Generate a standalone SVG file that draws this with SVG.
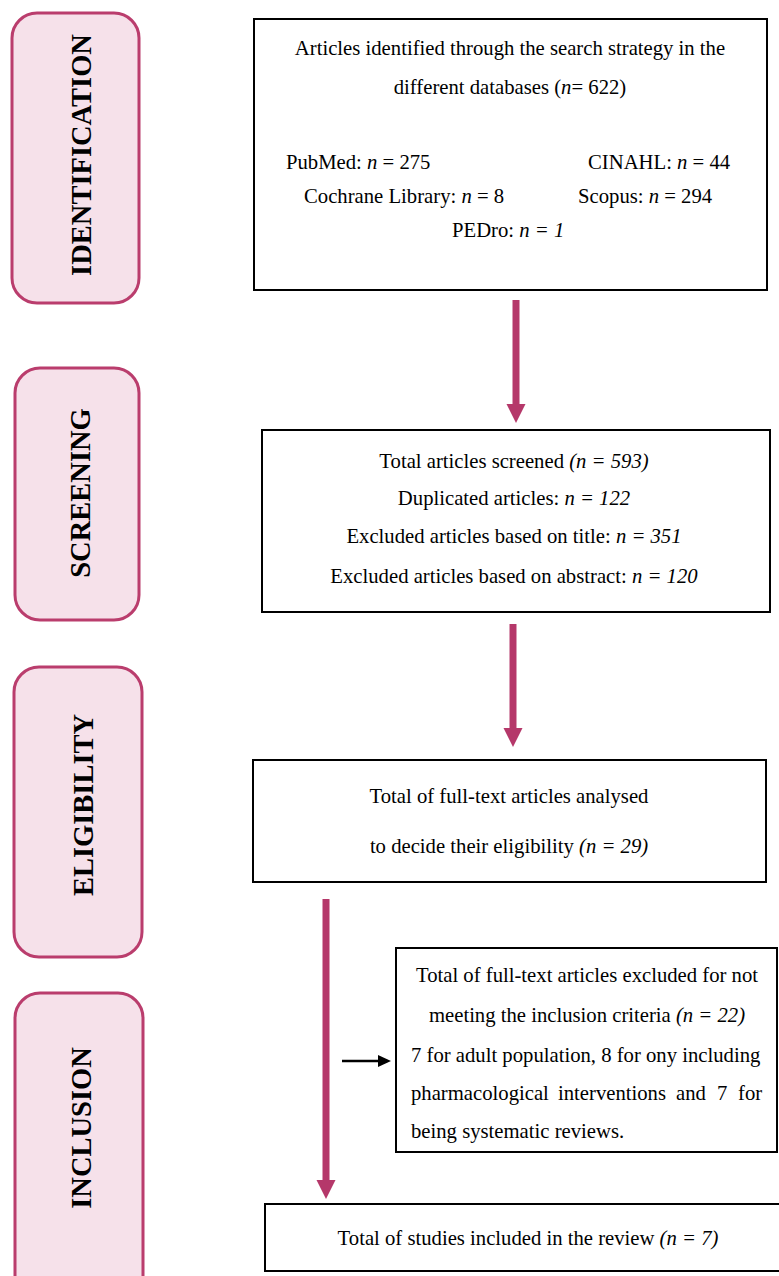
<svg xmlns="http://www.w3.org/2000/svg" width="779" height="1276" viewBox="0 0 779 1276">
<defs>
<style>
.stage{fill:#F6E1EA;stroke:#BA3D6D;stroke-width:3}
.stlabel{font-family:"Liberation Serif","Times New Roman",serif;font-weight:bold;font-size:28.5px;fill:#000;text-anchor:middle}
.box{fill:#fff;stroke:#000;stroke-width:2}
.t{font-family:"Liberation Serif","Times New Roman",serif;font-size:20.7px;fill:#000}
.c{text-anchor:middle}
.i{font-style:italic}
.flow{stroke:#B5386A;stroke-width:7;fill:none}
.side{stroke:#000;stroke-width:2.5;fill:none}
</style>
<marker id="mh" markerUnits="userSpaceOnUse" markerWidth="20" markerHeight="20" refX="0" refY="9.5" orient="auto" viewBox="0 0 20 19">
<path d="M0,0 L19,9.5 L0,19 z" fill="#B5386A"/>
</marker>
<marker id="bh" markerUnits="userSpaceOnUse" markerWidth="13" markerHeight="12" refX="0" refY="6" orient="auto" viewBox="0 0 13 12">
<path d="M0,0 L13,6 L0,12 z" fill="#000"/>
</marker>
</defs>
<rect width="779" height="1276" fill="#fff"/>

<g id="stage-identification">
<rect class="stage" x="12" y="13" width="127" height="290" rx="25"/>
<text class="stlabel" transform="translate(91,155) rotate(-90)">IDENTIFICATION</text>
</g>
<g id="stage-screening">
<rect class="stage" x="15" y="368" width="124" height="252" rx="25"/>
<text class="stlabel" transform="translate(90,493) rotate(-90)">SCREENING</text>
</g>
<g id="stage-eligibility">
<rect class="stage" x="14" y="667" width="128" height="290" rx="25"/>
<text class="stlabel" transform="translate(93,805) rotate(-90)">ELIGIBILITY</text>
</g>
<g id="stage-inclusion">
<rect class="stage" x="15" y="993" width="128" height="310" rx="25"/>
<text class="stlabel" transform="translate(91,1128) rotate(-90)">INCLUSION</text>
</g>

<g id="identified">
<rect class="box" x="254" y="19" width="513" height="271"/>
<text class="t c" x="510" y="55">Articles identified through the search strategy in the</text>
<text class="t c" x="510" y="94">different databases (<tspan class="i">n</tspan>= 622)</text>
<text class="t" x="286" y="169">PubMed: <tspan class="i">n</tspan> = 275</text>
<text class="t" x="588" y="169">CINAHL: <tspan class="i">n</tspan> = 44</text>
<text class="t" x="304" y="203">Cochrane Library: <tspan class="i">n</tspan> = 8</text>
<text class="t" x="578" y="203">Scopus: <tspan class="i">n</tspan> = 294</text>
<text class="t" x="452" y="237">PEDro: <tspan class="i">n = 1</tspan></text>
</g>

<g id="screened">
<rect class="box" x="262" y="430" width="508" height="182"/>
<text class="t c" x="514" y="468">Total articles screened <tspan class="i">(n = 593)</tspan></text>
<text class="t c" x="514" y="505">Duplicated articles: <tspan class="i">n = 122</tspan></text>
<text class="t c" x="514" y="543">Excluded articles based on title: <tspan class="i">n = 351</tspan></text>
<text class="t c" x="514" y="583">Excluded articles based on abstract: <tspan class="i">n = 120</tspan></text>
</g>

<g id="eligibility">
<rect class="box" x="253" y="760" width="513" height="122"/>
<text class="t c" x="509" y="803">Total of full-text articles analysed</text>
<text class="t c" x="509" y="853">to decide their eligibility <tspan class="i">(n = 29)</tspan></text>
</g>

<g id="excluded">
<rect class="box" x="396" y="948" width="381" height="204"/>
<text class="t c" x="587" y="982">Total of full-text articles excluded for not</text>
<text class="t c" x="587" y="1022">meeting the inclusion criteria <tspan class="i">(n = 22)</tspan></text>
<text class="t" x="411" y="1062">7 for adult population, 8 for ony including</text>
<text class="t" y="1100"><tspan x="411">pharmacological</tspan><tspan x="558">interventions</tspan><tspan x="676">and</tspan><tspan x="717">7</tspan><tspan x="738">for</tspan></text>
<text class="t" x="411" y="1138">being systematic reviews.</text>
</g>

<g id="included">
<rect class="box" x="265" y="1204" width="530" height="67"/>
<text class="t c" x="528" y="1245">Total of studies included in the review <tspan class="i">(n = 7)</tspan></text>
</g>

<g id="connectors">
<line class="flow" x1="516" y1="300" x2="516" y2="404" marker-end="url(#mh)"/>
<line class="flow" x1="513" y1="624" x2="513" y2="728" marker-end="url(#mh)"/>
<line class="flow" x1="326" y1="899" x2="326" y2="1180" marker-end="url(#mh)"/>
<line class="side" x1="342" y1="1061" x2="378" y2="1061" marker-end="url(#bh)"/>
</g>
</svg>
